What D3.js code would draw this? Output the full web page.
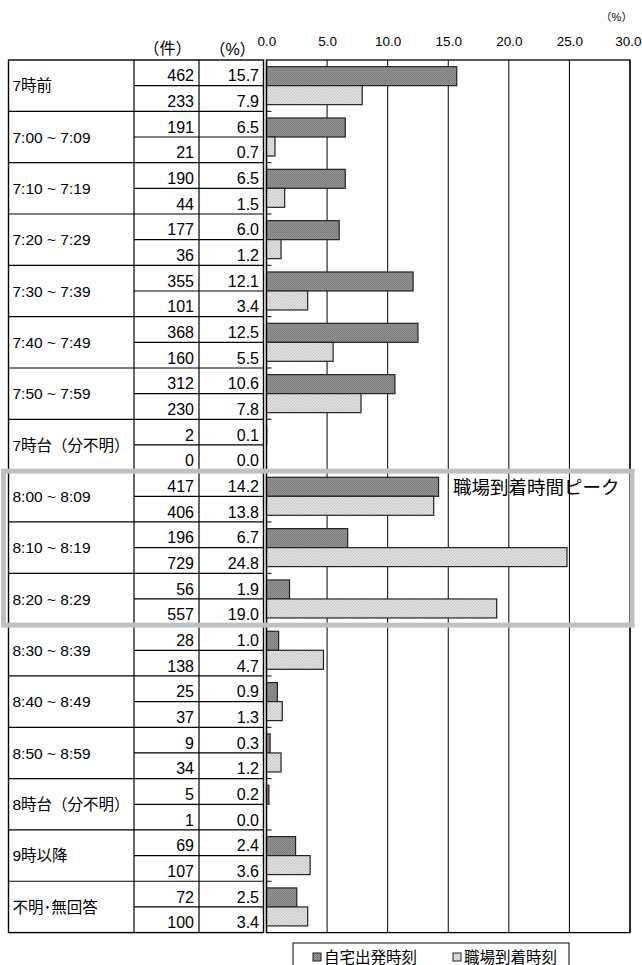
<!DOCTYPE html>
<html>
<head>
<meta charset="utf-8">
<script src="https://cdn.jsdelivr.net/npm/d3@7"></script>
<style>
  html, body { margin: 0; padding: 0; background: #fff; }
  svg { display: block; font-family: "Liberation Sans", "Noto Sans CJK JP", sans-serif; }
</style>
</head>
<body>
<svg id="chart" width="642" height="965"></svg>
<script>
// time slots (rows of the table)
const categories = [
  "7時前", "7:00 ~ 7:09", "7:10 ~ 7:19", "7:20 ~ 7:29", "7:30 ~ 7:39",
  "7:40 ~ 7:49", "7:50 ~ 7:59", "7時台（分不明）", "8:00 ~ 8:09", "8:10 ~ 8:19",
  "8:20 ~ 8:29", "8:30 ~ 8:39", "8:40 ~ 8:49", "8:50 ~ 8:59", "8時台（分不明）",
  "9時以降", "不明･無回答"
];
// 自宅出発時刻
const departCount = [462, 191, 190, 177, 355, 368, 312, 2, 417, 196, 56, 28, 25, 9, 5, 69, 72];
const departPct   = [15.7, 6.5, 6.5, 6.0, 12.1, 12.5, 10.6, 0.1, 14.2, 6.7, 1.9, 1.0, 0.9, 0.3, 0.2, 2.4, 2.5];
// 職場到着時刻
const arriveCount = [233, 21, 44, 36, 101, 160, 230, 0, 406, 729, 557, 138, 37, 34, 1, 107, 100];
const arrivePct   = [7.9, 0.7, 1.5, 1.2, 3.4, 5.5, 7.8, 0.0, 13.8, 24.8, 19.0, 4.7, 1.3, 1.2, 0.0, 3.6, 3.4];

const xTicks = [0, 5, 10, 15, 20, 25, 30];
const seriesNames = ["自宅出発時刻", "職場到着時刻"];
const peakRows = ["8:00 ~ 8:09", "8:20 ~ 8:29"];
const peakLabel = "職場到着時間ピーク";

// layout
const plotTop = 60, plotBottom = 932.6;
const tableLeft = 8.5, colLabel = 134, colCount = 199, tableRight = 263.5;
const plotLeft = 266.5, plotRight = 630;
const barH = 19;

const svg = d3.select("#chart");

const y = d3.scaleBand().domain(categories).range([plotTop, plotBottom]);
const x = d3.scaleLinear().domain([0, 30]).range([plotLeft, plotRight]);
const bw = y.bandwidth();

// patterns for the bars
const defs = svg.append("defs");
const pDark = defs.append("pattern").attr("id", "pDark")
  .attr("width", 2).attr("height", 2).attr("patternUnits", "userSpaceOnUse");
pDark.append("rect").attr("width", 2).attr("height", 2).attr("fill", "#939393");
pDark.append("rect").attr("width", 1).attr("height", 1).attr("fill", "#7a7a7a");
pDark.append("rect").attr("x", 1).attr("y", 1).attr("width", 1).attr("height", 1).attr("fill", "#808080");

const pLight = defs.append("pattern").attr("id", "pLight")
  .attr("width", 3).attr("height", 3).attr("patternUnits", "userSpaceOnUse");
pLight.append("rect").attr("width", 3).attr("height", 3).attr("fill", "#e0e0e0");
pLight.append("path").attr("d", "M0,3 L3,0 M-1,1 L1,-1 M2,4 L4,2")
  .attr("stroke", "#b8b8b8").attr("stroke-width", 0.7);

// ---- table ----
const table = svg.append("g").attr("stroke", "#000").attr("fill", "none");

categories.forEach((c, i) => {
  const y0 = y(c);
  if (i > 0) table.append("line").attr("x1", tableLeft).attr("x2", tableRight)
    .attr("y1", y0).attr("y2", y0).attr("stroke-width", 1.2);
  table.append("line").attr("x1", colLabel).attr("x2", tableRight)
    .attr("y1", y0 + bw / 2).attr("y2", y0 + bw / 2).attr("stroke-width", 1.2);
});
[colLabel, colCount].forEach(cx => {
  table.append("line").attr("x1", cx).attr("x2", cx).attr("y1", plotTop).attr("y2", plotBottom).attr("stroke-width", 1.2);
});
table.append("rect").attr("x", tableLeft).attr("y", plotTop)
  .attr("width", tableRight - tableLeft).attr("height", plotBottom - plotTop).attr("stroke-width", 1.4);

const txt = svg.append("g").attr("fill", "#000");

txt.selectAll(".cat").data(categories).join("text")
  .attr("class", "cat")
  .attr("x", tableLeft + 4)
  .attr("y", d => y(d) + bw / 2)
  .attr("dy", "0.36em")
  .attr("font-size", 15.5)
  .text(d => d);

function numberColumn(values, xr, half, fmt) {
  txt.append("g").selectAll("text").data(values).join("text")
    .attr("x", xr)
    .attr("y", (d, i) => y(categories[i]) + bw / 2 * (half + 1) - 4.3)
    .attr("text-anchor", "end")
    .attr("font-size", 16)
    .text(d => fmt(d));
}
numberColumn(departCount, colCount - 5, 0, d3.format("d"));
numberColumn(arriveCount, colCount - 5, 1, d3.format("d"));
numberColumn(departPct, tableRight - 4.5, 0, d3.format(".1f"));
numberColumn(arrivePct, tableRight - 4.5, 1, d3.format(".1f"));

// column headers
txt.append("text").attr("x", 167.5).attr("y", 54).attr("text-anchor", "middle")
  .attr("font-size", 16).text("（件）");
txt.append("text").attr("x", 232.5).attr("y", 55).attr("text-anchor", "middle")
  .attr("font-size", 16).text("（%）");
txt.append("text").attr("x", 616.5).attr("y", 21).attr("text-anchor", "middle")
  .attr("font-size", 11).text("（%）");

// ---- plot ----
const plot = svg.append("g");

plot.selectAll(".grid").data(xTicks.slice(1)).join("line")
  .attr("x1", d => x(d)).attr("x2", d => x(d))
  .attr("y1", plotTop).attr("y2", plotBottom)
  .attr("stroke", "#000").attr("stroke-width", 1);

plot.append("rect").attr("x", plotLeft).attr("y", plotTop)
  .attr("width", plotRight - plotLeft).attr("height", plotBottom - plotTop)
  .attr("fill", "none").attr("stroke", "#000").attr("stroke-width", 1.3);

// category ticks at group boundaries
plot.selectAll(".ctick").data(categories.slice(1)).join("line")
  .attr("x1", plotLeft).attr("x2", plotLeft + 5)
  .attr("y1", d => y(d)).attr("y2", d => y(d))
  .attr("stroke", "#000").attr("stroke-width", 1);

const xAxis = d3.axisTop(x).tickValues(xTicks).tickFormat(d3.format(".1f"))
  .tickSize(0).tickPadding(14);
const ax = plot.append("g").attr("transform", `translate(0,${plotTop})`).call(xAxis);
ax.select(".domain").remove();
ax.selectAll("text").attr("font-size", 13.5)
  .attr("font-family", "'Liberation Sans', sans-serif").attr("fill", "#000");
// last label sits flush with the right edge
ax.selectAll("text").filter(d => d === 30).attr("text-anchor", "end").attr("x", 641 - plotRight);

function bars(values, offset, fill) {
  plot.append("g").selectAll("rect").data(values).join("rect")
    .attr("x", x(0))
    .attr("y", (d, i) => y(categories[i]) + bw / 2 + offset)
    .attr("width", d => x(d) - x(0))
    .attr("height", barH)
    .attr("fill", fill)
    .attr("stroke", "#222")
    .attr("stroke-width", d => d > 0.15 ? 1.2 : 0);
}
bars(departPct, -barH, "url(#pDark)");
bars(arrivePct, 0, "url(#pLight)");

// left axis line
plot.append("line").attr("x1", plotLeft).attr("x2", plotLeft)
  .attr("y1", plotTop).attr("y2", plotBottom).attr("stroke", "#000").attr("stroke-width", 1.3);

// ---- peak highlight ----
const peakTop = y(peakRows[0]), peakBottom = y(peakRows[1]) + bw;
svg.append("rect")
  .attr("x", 3.5).attr("y", peakTop + 0.5)
  .attr("width", 632 - 3.5).attr("height", peakBottom - peakTop)
  .attr("fill", "none").attr("stroke", "#c0c0c0").attr("stroke-width", 5);
svg.append("text").attr("x", 453).attr("y", peakTop + 23.5)
  .attr("font-size", 18.5).attr("fill", "#000").text(peakLabel);

// ---- legend ----
const legend = svg.append("g").attr("transform", "translate(293,943)");
legend.append("rect").attr("width", 276).attr("height", 34)
  .attr("fill", "#fff").attr("stroke", "#000").attr("stroke-width", 1);
const legendX = [20, 160];
seriesNames.forEach((name, i) => {
  legend.append("rect").attr("x", legendX[i]).attr("y", 10).attr("width", 8).attr("height", 8)
    .attr("fill", i === 0 ? "url(#pDark)" : "url(#pLight)")
    .attr("stroke", "#222").attr("stroke-width", 1);
  legend.append("text").attr("x", legendX[i] + 11).attr("y", 14).attr("dy", "0.36em")
    .attr("font-size", 15.5).attr("fill", "#000").text(name);
});
</script>
</body>
</html>
